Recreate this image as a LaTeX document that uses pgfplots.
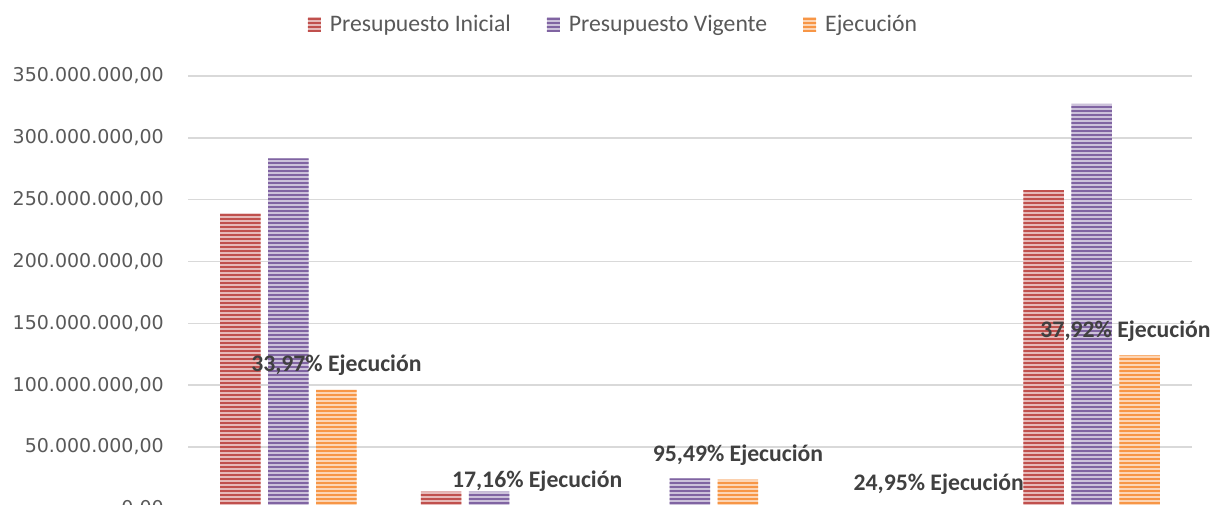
\documentclass[border=0pt]{standalone}
\usepackage{pgfplots}
\pgfplotsset{compat=1.18}
\usepackage{pgfplotstable}
\usepackage{fontspec}
\setmainfont{Carlito}
\newfontfamily\tickfont{DejaVu Sans}
\usetikzlibrary{patterns}
\pgfdeclarepatternformonly{hstripes}{\pgfqpoint{0pt}{0pt}}{\pgfqpoint{1400pt}{4pt}}{\pgfqpoint{1398pt}{4pt}}{%
  \pgfpathrectangle{\pgfqpoint{0pt}{0pt}}{\pgfqpoint{1400pt}{2.1pt}}\pgfusepath{fill}}
\definecolor{cRed}{HTML}{C0504D}
\definecolor{cPur}{HTML}{8064A2}
\definecolor{cOra}{HTML}{F79646}
\definecolor{txtc}{HTML}{595959}
\definecolor{lblc}{HTML}{404040}
\definecolor{gridc}{HTML}{D9D9D9}

\pgfplotstableread{
x ini vig eje
0 238970000 283450000 96290000
1 13830000 13830000 2370000
2 0 24670000 23560000
3 800000 1000000 250000
4 257800000 327400000 124100000
}\data

\begin{document}
\begin{tikzpicture}
\clip (0pt,0pt) rectangle (1212pt,504pt);
\begin{axis}[
  at={(188pt,-4.8pt)}, anchor=south west,
  scale only axis, width=1004pt, height=432.8pt,
  xmin=-0.5, xmax=4.5, ymin=0, ymax=350000000,
  clip=false,
  xtick=\empty,
  ytick={0,50000000,100000000,150000000,200000000,250000000,300000000,350000000},
  axis line style={draw=none},
  ymajorgrids, grid style={gridc, line width=1.5pt},
  major tick length=0pt,
  scaled y ticks=false,
  yticklabel style={font=\tickfont\fontsize{19}{22}\selectfont, text=txtc, anchor=east, inner sep=0pt, xshift=-24pt,
    /pgf/number format/fixed, /pgf/number format/fixed zerofill, /pgf/number format/precision=2,
    /pgf/number format/use comma, /pgf/number format/1000 sep={.}, /pgf/number format/assume math mode=true},
  ybar, bar width=40.5pt,
  legend style={at={(axis description cs:0.4228,1.1201)}, anchor=center, draw=none, fill=none,
    font=\fontsize{23.7}{28}\selectfont, nodes={text=txtc, inner xsep=0pt},
    /tikz/every odd column/.append style={column sep=9pt},
    /tikz/every even column/.append style={column sep=36pt}},
  legend columns=3,
  legend image code/.code={\path[#1, draw=none] (0pt,-7pt) rectangle (13pt,7pt);},
]
\addplot[fill=cRed!40!white, draw=none, bar shift=-48pt,
  postaction={pattern=hstripes, pattern color=cRed}]
  table[x=x,y=ini]{\data};
\addplot[fill=cPur!40!white, draw=none, bar shift=0pt,
  postaction={pattern=hstripes, pattern color=cPur}]
  table[x=x,y=vig]{\data};
\addplot[fill=cOra!40!white, draw=none, bar shift=48pt,
  postaction={pattern=hstripes, pattern color=cOra}]
  table[x=x,y=eje]{\data};
\legend{Presupuesto Inicial, Presupuesto Vigente, Ejecución}
\tikzset{lbl/.style={font=\bfseries\fontsize{23.7}{28}\selectfont, text=lblc, anchor=base, yshift=18pt, inner sep=0pt}}
\node[lbl] at (axis cs:0.239,96290000) {33,97\% Ejecución};
\node[lbl] at (axis cs:1.239,2370000) {17,16\% Ejecución};
\node[lbl] at (axis cs:2.239,23560000) {95,49\% Ejecución};
\node[lbl] at (axis cs:3.239,250000) {24,95\% Ejecución};
\node[lbl, xshift=-14pt] at (axis cs:4.239,124100000) {37,92\% Ejecución};
\end{axis}
\end{tikzpicture}
\end{document}
